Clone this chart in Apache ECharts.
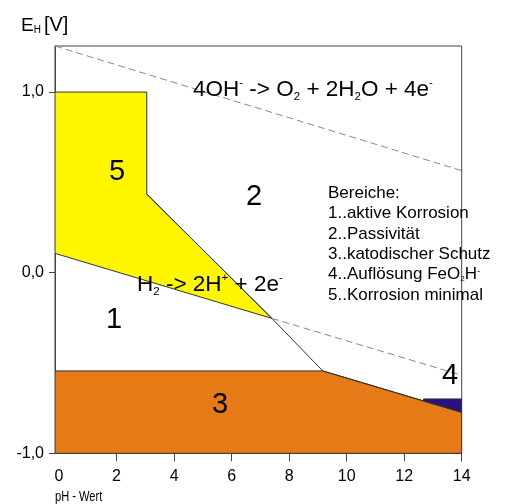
<!DOCTYPE html>
<html>
<head>
<meta charset="utf-8">
<script src="https://cdn.jsdelivr.net/npm/echarts@6/dist/echarts.min.js"></script>
<style>html,body{margin:0;padding:0;background:#fff;}#c{width:509px;height:504px;}</style>
</head>
<body>
<div id="c"></div>
<script>
// ---- data (pH, E in V) ----
const xTicks = [2, 4, 6, 8, 10, 12, 14];
const xLabels = [0, 2, 4, 6, 8, 10, 12, 14];
const yTicks = [-1, 0, 1];

const region5PH = [-0.14, 3.05, 3.05, 7.40, -0.14];   // yellow
const region5E  = [1.0, 1.0, 0.435, -0.253, 0.107];
const region3PH = [-0.14, 9.17, 14, 14, -0.14];        // orange
const region3E  = [-0.544, -0.544, -0.773, -1.0, -1.0];
const region4PH = [12.67, 14, 14, 12.67];              // dark blue
const region4E  = [-0.699, -0.699, -0.773, -0.710];

const borderPH = [3.05, 7.40, 9.17, 14];               // solid boundary
const borderE  = [0.435, -0.253, -0.544, -0.773];
const h2DashPH = [7.40, 14];
const h2DashE  = [-0.253, -0.568];
const o2PH = [-0.14, 14];
const o2E  = [1.255, 0.565];

const regionLabels = ['5', '2', '1', '3', '4'];

const FONT = 'Liberation Sans, Arial, sans-serif';
const pts = (xs, ys) => xs.map((x, i) => [x, ys[i]]);

function polySeries(xs, ys, color) {
  return {
    type: 'custom',
    coordinateSystem: 'cartesian2d',
    silent: true,
    clip: true,
    data: [[xs[0], ys[0]]],
    renderItem: function (params, api) {
      return {
        type: 'polygon',
        shape: { points: pts(xs, ys).map(p => api.coord(p)) },
        style: { fill: color, stroke: '#333', lineWidth: 1 }
      };
    },
    z: 2
  };
}
function lineSeries(xs, ys, style) {
  return {
    type: 'line',
    data: pts(xs, ys),
    symbol: 'none',
    silent: true,
    lineStyle: style,
    z: 3
  };
}

const chart = echarts.init(document.getElementById('c'), null, { renderer: 'canvas' });
chart.setOption({
  animation: false,
  backgroundColor: '#fff',
  grid: { left: 55, right: 47.3, top: 46, bottom: 50.7, show: true, borderColor: '#444', borderWidth: 1, backgroundColor: 'transparent' },
  xAxis: {
    type: 'value', min: -0.14, max: 14,
    axisLine: { show: true, onZero: false, lineStyle: { color: '#444' } },
    axisTick: { show: true, length: 8, inside: false, customValues: xTicks, lineStyle: { color: '#444' } },
    axisLabel: { customValues: xLabels, margin: 15, fontFamily: FONT, fontSize: 16, color: '#000' },
    splitLine: { show: false }
  },
  yAxis: {
    type: 'value', min: -1, max: 1.255,
    axisLine: { show: true, onZero: false, lineStyle: { color: '#444' } },
    axisTick: { show: true, length: 6, customValues: yTicks, lineStyle: { color: '#444' } },
    axisLabel: {
      customValues: yTicks, margin: 11, fontFamily: FONT, fontSize: 16, color: '#000',
      formatter: v => v.toFixed(1).replace('.', ',')
    },
    splitLine: { show: false }
  },
  series: [
    polySeries(region3PH, region3E, '#E67A17'),
    polySeries(region5PH, region5E, '#FFF700'),
    polySeries(region4PH, region4E, '#2A1080'),
    lineSeries(borderPH, borderE, { color: '#333', width: 1 }),
    lineSeries(h2DashPH, h2DashE, { color: '#888', width: 1, type: [7, 4] }),
    lineSeries(o2PH, o2E, { color: '#888', width: 1, type: [7, 4] })
  ],
  graphic: [
    { type: 'text', z: 100, left: 21, top: 15, style: { text: '{a|E}{s|H}{b|[V]}', rich: {
      a: { fontFamily: FONT, fontSize: 19, lineHeight: 24, verticalAlign: 'bottom' },
      b: { fontFamily: FONT, fontSize: 20, lineHeight: 24, verticalAlign: 'bottom', padding: [0, 0, 0, 3] },
      s: { fontFamily: FONT, fontSize: 10, lineHeight: 24, verticalAlign: 'bottom' } } } },
    { type: 'text', z: 100, left: 193, top: 77, style: { text: '{a|4OH}{p|-}{a| -> O}{s|2}{a| + 2H}{s|2}{a|O + 4e}{p|-}', rich: {
      a: { fontFamily: FONT, fontSize: 22.5, lineHeight: 26, verticalAlign: 'middle' },
      s: { fontFamily: FONT, fontSize: 11.5, lineHeight: 26, verticalAlign: 'bottom' },
      p: { fontFamily: FONT, fontSize: 11.5, lineHeight: 26, verticalAlign: 'top' } } } },
    { type: 'text', z: 100, left: 137, top: 272, style: { text: '{a|H}{s|2}{a| -> 2H}{p|+}{a| + 2e}{p|-}', rich: {
      a: { fontFamily: FONT, fontSize: 22.5, lineHeight: 26, verticalAlign: 'middle' },
      s: { fontFamily: FONT, fontSize: 11.5, lineHeight: 26, verticalAlign: 'bottom' },
      p: { fontFamily: FONT, fontSize: 11.5, lineHeight: 26, verticalAlign: 'top' } } } },
    { type: 'text', z: 100, left: 328, top: 185, style: {
      text: '{a|Bereiche:}\n{a|1..aktive Korrosion}\n{a|2..Passivität}\n{a|3..katodischer Schutz}\n{a|4..Auflösung FeO}{s|2}{a|H}{p|-}\n{a|5..Korrosion minimal}',
      rich: {
        a: { fontFamily: FONT, fontSize: 17, lineHeight: 20.3, verticalAlign: 'middle', color: '#000' },
        s: { fontFamily: FONT, fontSize: 8, lineHeight: 20.3, verticalAlign: 'bottom', padding: [0,0,2,0] },
        p: { fontFamily: FONT, fontSize: 9, lineHeight: 20.3, verticalAlign: 'top', padding: [2,0,0,0] }
      } } },
    { type: 'text', z: 100, x: 117, y: 172, style: { text: regionLabels[0], fontFamily: FONT, fontSize: 29, align: 'center', verticalAlign: 'middle' } },
    { type: 'text', z: 100, x: 254, y: 197, style: { text: regionLabels[1], fontFamily: FONT, fontSize: 29, align: 'center', verticalAlign: 'middle' } },
    { type: 'text', z: 100, x: 114, y: 320, style: { text: regionLabels[2], fontFamily: FONT, fontSize: 29, align: 'center', verticalAlign: 'middle' } },
    { type: 'text', z: 100, x: 220, y: 405, style: { text: regionLabels[3], fontFamily: FONT, fontSize: 29, align: 'center', verticalAlign: 'middle' } },
    { type: 'text', z: 100, x: 450, y: 376, style: { text: regionLabels[4], fontFamily: FONT, fontSize: 29, align: 'center', verticalAlign: 'middle' } },
    { type: 'text', z: 100, x: 55, y: 497, scaleX: 0.74, style: { text: 'pH - Wert', fontFamily: FONT, fontSize: 15, fill: '#000', verticalAlign: 'middle' } }
  ]
});
</script>
</body>
</html>
